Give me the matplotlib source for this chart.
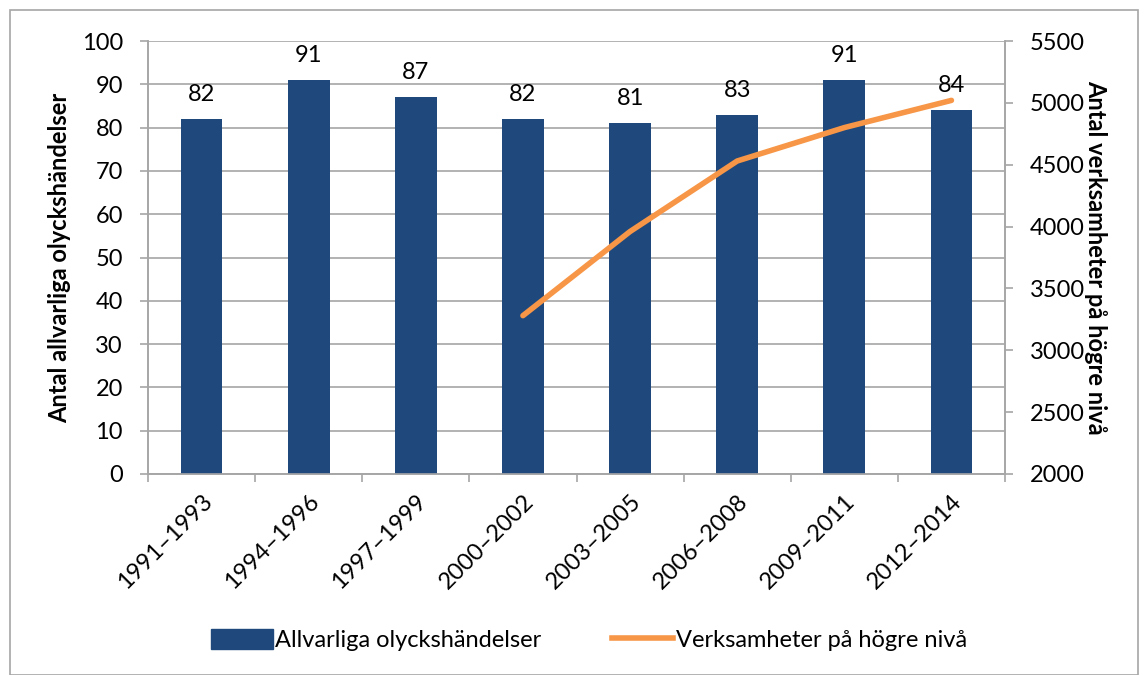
import matplotlib
matplotlib.use("Agg")
import matplotlib.pyplot as plt
from matplotlib.patches import Rectangle, Patch
from matplotlib.lines import Line2D
import numpy as np

plt.rcParams['font.family'] = ['Lato', 'DejaVu Sans']

categories = ["1991–1993", "1994–1996", "1997–1999", "2000–2002",
              "2003–2005", "2006–2008", "2009–2011", "2012–2014"]
accidents = [82, 91, 87, 82, 81, 83, 91, 84]
line_cats = ["2000–2002", "2003–2005", "2006–2008", "2009–2011", "2012–2014"]
establishments = [3280, 3960, 4530, 4800, 5020]

bar_color = "#1F497D"
line_color = "#F79646"
grid_color = "#A6A6A6"
fs = 17

fig = plt.figure(figsize=(11.48, 6.75), dpi=100)
ax = fig.add_axes([148/1148, 1-474/675, (1005-148)/1148, (474-41)/675])
ax2 = ax.twinx()
ax.set_zorder(1)
ax2.set_zorder(2)
ax.patch.set_visible(False)

x = np.arange(len(categories))
ax.bar(x, accidents, width=0.39, color=bar_color, zorder=3)
for xi, v in zip(x, accidents):
    ax.annotate(str(v), (xi, v), xytext=(0, 10), textcoords="offset points",
                ha="center", va="bottom", fontsize=fs)

lx = [categories.index(c) for c in line_cats]
ax2.plot(lx, establishments, color=line_color, lw=4, solid_capstyle="round", zorder=4)

ax.set_xlim(-0.5, len(categories) - 0.5)
ax.set_ylim(0, 100)
ax.set_yticks(np.arange(0, 101, 10))
ax2.set_ylim(2000, 5500)
ax2.set_yticks(np.arange(2000, 5501, 500))

ax.yaxis.grid(True, color=grid_color, lw=1.2, zorder=0)
ax.set_axisbelow(True)

ax.set_xticks(x)
ax.set_xticklabels(categories, rotation=45, ha="right", rotation_mode="anchor", fontsize=fs)
ax.set_xticks(np.arange(-0.5, len(categories)), minor=True)
ax.tick_params(axis="x", which="major", length=0, pad=12)
ax.tick_params(axis="x", which="minor", length=6, color=grid_color, width=1.2)
ax.tick_params(axis="y", labelsize=fs, length=6, color=grid_color, width=1.2, pad=12)
ax2.tick_params(axis="y", labelsize=fs, length=6, color=grid_color, width=1.2, pad=12)

for a in (ax, ax2):
    a.spines["top"].set_visible(False)
    for s in ("left", "right", "bottom"):
        a.spines[s].set_color(grid_color)
        a.spines[s].set_linewidth(1.2)

ax.set_ylabel("Antal allvarliga olyckshändelser", fontsize=fs, fontweight="bold", labelpad=8)
ax2.set_ylabel("Antal verksamheter på högre nivå", fontsize=fs, fontweight="bold",
               rotation=270, labelpad=16)

handles = [Patch(color=bar_color), Line2D([0], [0], color=line_color, lw=4)]
fig.legend(handles, ["Allvarliga olyckshändelser", "Verksamheter på högre nivå"],
           loc="center", bbox_to_anchor=(589/1148, 1-640/675), ncol=2, frameon=False,
           fontsize=fs, handlelength=2.6, handleheight=0.9, columnspacing=3.0,
           handletextpad=0.1)

fig.patches.append(Rectangle((10/1148, 0), 1-20/1148, 1-10/675, transform=fig.transFigure,
                             fill=False, edgecolor="#A6A6A6", lw=1.2))

fig.savefig("out.png", dpi=100, facecolor="white")
